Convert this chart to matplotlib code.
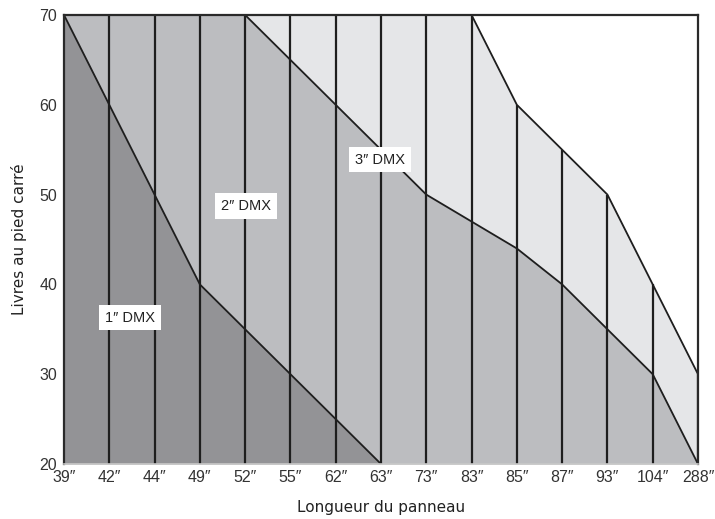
import matplotlib.pyplot as plt
import numpy as np

# Data
longueurs = ['39\u2033', '42\u2033', '44\u2033', '49\u2033', '52\u2033', '55\u2033',
             '62\u2033', '63\u2033', '73\u2033', '83\u2033', '85\u2033', '87\u2033',
             '93\u2033', '104\u2033', '288\u2033']
dmx_1 = [70, 60, 50, 40, 35, 30, 25, 20, 20, 20, 20, 20, 20, 20, 20]
dmx_2 = [70, 70, 70, 70, 70, 65, 60, 55, 50, 47, 44, 40, 35, 30, 20]
dmx_3 = [70, 70, 70, 70, 70, 70, 70, 70, 70, 70, 60, 55, 50, 40, 30]
labels = ['1\u2033 DMX', '2\u2033 DMX', '3\u2033 DMX']
label_pos = [(1.46, 36.3), (4.02, 48.7), (6.98, 53.9)]

c_dark = '#939396'
c_mid = '#bcbdc0'
c_light = '#e5e6e8'
c_line = '#1e1e1e'

tick_font = ['Liberation Sans Narrow', 'Liberation Sans', 'DejaVu Sans']

fig = plt.figure(figsize=(7.15, 5.19), dpi=100)
ax = fig.add_axes([64 / 715, 55 / 519, 634 / 715, 449 / 519])

x = np.arange(len(longueurs))
ax.fill_between(x, 20, dmx_1, color=c_dark, lw=0)
ax.fill_between(x, dmx_1, dmx_2, color=c_mid, lw=0)
ax.fill_between(x, dmx_2, dmx_3, color=c_light, lw=0)

# vertical separators up to the top curve
ax.vlines(x[1:], 20, dmx_3[1:], color=c_line, lw=1.6)

for ys in (dmx_1[:8], dmx_2, dmx_3):
    ax.plot(x[:len(ys)], ys, color=c_line, lw=1.3)

for (lx, ly), txt in zip(label_pos, labels):
    ax.text(lx, ly, txt, ha='center', va='center', fontsize=10.5,
            family=tick_font, color='#222222', zorder=5,
            bbox=dict(boxstyle='square,pad=0.4', fc='white', ec='none'))

ax.set_xlim(0, len(longueurs) - 1)
ax.set_ylim(20, 70)
ax.set_xticks(x)
ax.set_xticklabels(longueurs)
ax.set_yticks(range(20, 71, 10))
ax.tick_params(length=0, labelsize=11.5, colors='#333333')
ax.tick_params(axis='x', pad=4)
ax.tick_params(axis='y', pad=5)
for lab in ax.get_xticklabels() + ax.get_yticklabels():
    lab.set_family(tick_font)

for side in ('top', 'right', 'left'):
    ax.spines[side].set_color('#2a2a2a')
    ax.spines[side].set_linewidth(1.6)
ax.spines['bottom'].set_color('#c8c8c8')
ax.spines['bottom'].set_linewidth(1.2)

ax.set_xlabel('Longueur du panneau', fontsize=11, color='#222222', labelpad=11)
ax.set_ylabel('Livres au pied carré', fontsize=11, color='#222222', labelpad=9)

fig.savefig('out.png', dpi=100)
